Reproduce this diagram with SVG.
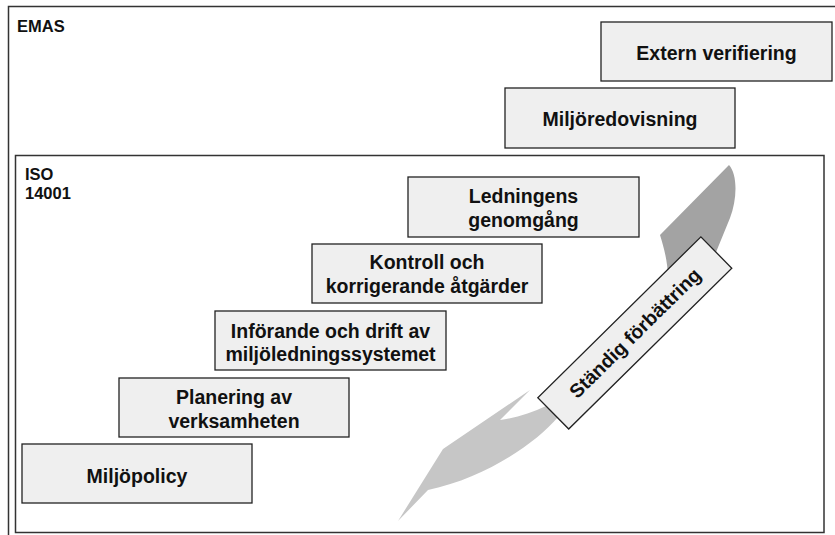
<svg xmlns="http://www.w3.org/2000/svg" width="835" height="535" viewBox="0 0 835 535">
<style>
  .frame{fill:none;stroke:#333;stroke-width:1.5}
  .box{fill:#efefef;stroke:#222;stroke-width:1.3}
  .t{font-family:"Liberation Sans",Arial,sans-serif;font-weight:bold;font-size:19.5px;fill:#111;text-anchor:middle}
  .lbl{font-family:"Liberation Sans",Arial,sans-serif;font-weight:bold;font-size:16.5px;fill:#111}
</style>
<rect width="835" height="535" fill="#fff"/>
<g id="emas">
  <rect class="frame" x="8.5" y="6.5" width="832" height="535"/>
  <text class="lbl" x="17" y="32">EMAS</text>
</g>
<g id="iso14001">
  <rect class="frame" x="15.5" y="155.5" width="808.5" height="377"/>
  <text class="lbl" x="25" y="180">ISO</text>
  <text class="lbl" x="25" y="199">14001</text>
</g>
<g id="swoosh">
  <path fill="#c6c6c6" d="M398,521 L443,449 L530,390 L500,420 C515,418 532,413 546,406 L565,400 L570,418 L558,417 C535,444 485,478 428,490 Z"/>
  <path fill="#a3a3a3" d="M729,165 C738,175 737,200 730,218 L712,262 L680,290 L668,280 C668,262 664,248 660,235 Z"/>
</g>
<g id="extern-verifiering">
  <rect class="box" x="601" y="22" width="231" height="59"/>
  <text class="t" x="716.5" y="60">Extern verifiering</text>
</g>
<g id="miljoredovisning">
  <rect class="box" x="505" y="88" width="230" height="60"/>
  <text class="t" x="620" y="126">Miljöredovisning</text>
</g>
<g id="ledningens-genomgang">
  <rect class="box" x="408" y="177" width="231" height="60"/>
  <text class="t" x="523.5" y="203">Ledningens</text>
  <text class="t" x="523.5" y="227">genomgång</text>
</g>
<g id="kontroll">
  <rect class="box" x="312" y="244" width="230" height="59"/>
  <text class="t" x="427" y="269">Kontroll och</text>
  <text class="t" x="427" y="293">korrigerande åtgärder</text>
</g>
<g id="inforande">
  <rect class="box" x="215" y="311" width="231" height="59"/>
  <text class="t" x="330.5" y="338">Införande och drift av</text>
  <text class="t" x="330.5" y="361">miljöledningssystemet</text>
</g>
<g id="planering">
  <rect class="box" x="119" y="378" width="230" height="59"/>
  <text class="t" x="234" y="404">Planering av</text>
  <text class="t" x="234" y="428">verksamheten</text>
</g>
<g id="miljopolicy">
  <rect class="box" x="22" y="444" width="230" height="59"/>
  <text class="t" x="137" y="483">Miljöpolicy</text>
</g>
<g id="standig-forbattring" transform="translate(634.8,332.9) rotate(-44.6)">
  <rect class="box" x="-114.5" y="-22" width="229" height="44"/>
  <text class="t" x="0" y="7">Ständig förbättring</text>
</g>
</svg>
